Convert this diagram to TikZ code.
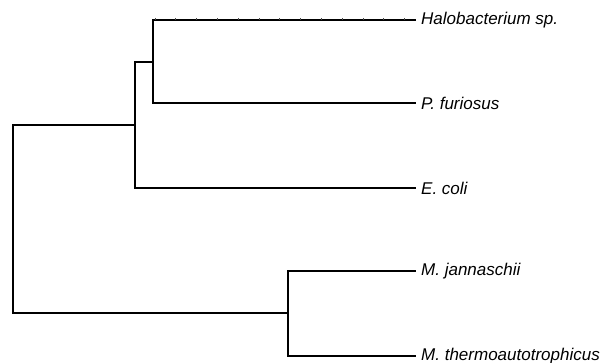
\documentclass[tikz,border=0pt]{standalone}
\usepackage{fontspec}
\setmainfont{Liberation Sans}
\begin{document}
\begin{tikzpicture}[x=1pt,y=-1pt,
  branch/.style={line width=1.4pt,line cap=rect},
  leaflabel/.style={anchor=west,inner sep=0pt,font=\fontsize{17}{19}\selectfont\itshape},
  tick/.style={line width=0.7pt,black!70}]
\useasboundingbox (0,0) rectangle (605,363);
% internal nodes
\coordinate (n1) at (153,62);
\coordinate (n2) at (135,125);
\coordinate (n3) at (288,313);
\coordinate (root) at (13,219);
% leaves
\coordinate (l1) at (415,20);
\coordinate (l2) at (415,103);
\coordinate (l3) at (415,188);
\coordinate (l4) at (415,271);
\coordinate (l5) at (415,356);
% labels
\node[leaflabel] (t1) at (421,20) {Halobacterium sp.};
\node[leaflabel] (t2) at (421,103) {P. furiosus};
\node[leaflabel] (t3) at (421,188) {E. coli};
\node[leaflabel] (t4) at (421,271) {M. jannaschii};
\node[leaflabel] (t5) at (421,356) {M. thermoautotrophicus};
% branches
\draw[branch] (l1) -| (n1) |- (l2);
\draw[branch] (n1) -| (n2) |- (l3);
\draw[branch] (l4) -| (n3) |- (l5);
\draw[branch] (n2) -| (root) |- (n3);
% small ticks along the top branch
\foreach \i in {0,...,12}{
  \draw[tick] (155+20.8*\i,20) -- ++(0,-1.5);
}
\end{tikzpicture}
\end{document}
